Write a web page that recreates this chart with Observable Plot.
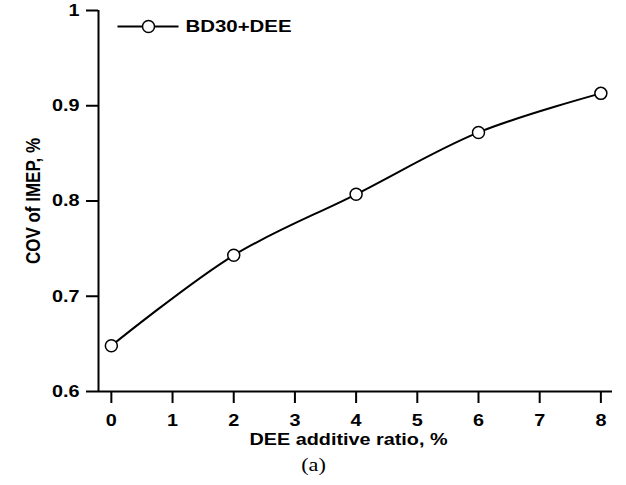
<!DOCTYPE html>
<html>
<head>
<meta charset="utf-8">
<script src="https://cdn.jsdelivr.net/npm/d3@7"></script>
<script src="https://cdn.jsdelivr.net/npm/@observablehq/plot@0.6"></script>
<style>
  html, body { margin: 0; padding: 0; background: #fff; }
  #chart svg { display: block; }
</style>
</head>
<body>
<div id="chart"></div>
<script>
const ratio = [0, 2, 4, 6, 8];
const cov = [0.648, 0.743, 0.807, 0.872, 0.913];
const seriesName = "BD30+DEE";
const xTicks = [0, 1, 2, 3, 4, 5, 6, 7, 8];
const yTicks = [0.6, 0.7, 0.8, 0.9, 1];
const xLabel = "DEE additive ratio, %";
const yLabel = "COV of IMEP, %";
const caption = "(a)";

const data = ratio.map((r, i) => ({ratio: r, cov: cov[i]}));
const xDomain = [-0.21, 8.19];
const yDomain = [0.6, 1];

const lineSymbol = {
  draw(ctx) { ctx.moveTo(-31, 0); ctx.lineTo(30, 0); }
};

const chart = Plot.plot({
  width: 626,
  height: 485,
  marginLeft: 98,
  marginRight: 14,
  marginTop: 10,
  marginBottom: 94,
  style: {background: "#fff", color: "#000", fontFamily: "Liberation Sans, Arial, sans-serif"},
  x: {domain: xDomain},
  y: {domain: yDomain},
  marks: [
    Plot.axisY(yTicks, {tickSize: 12, tickPadding: 7, strokeWidth: 2, tickFormat: d3.format("~g"), label: null}),
    Plot.axisX(xTicks, {anchor: "bottom", tickSize: 12, tickPadding: 11, strokeWidth: 2, tickFormat: d3.format("d"), label: null}),
    Plot.ruleX([xDomain[0]], {stroke: "#000", strokeWidth: 2}),
    Plot.ruleY([yDomain[0]], {stroke: "#000", strokeWidth: 2}),
    Plot.line(data, {x: "ratio", y: "cov", curve: "catmull-rom", stroke: "#000", strokeWidth: 2}),
    Plot.dot(data, {x: "ratio", y: "cov", r: 6, stroke: "#000", fill: "#fff", strokeWidth: 1.5}),
    // legend
    Plot.dot([seriesName], {frameAnchor: "top-left", dx: 50, dy: 16, symbol: lineSymbol, r: 5, stroke: "#000", strokeWidth: 2, fill: "none"}),
    Plot.dot([seriesName], {frameAnchor: "top-left", dx: 50, dy: 16, r: 6, stroke: "#000", fill: "#fff", strokeWidth: 1.5}),
    Plot.text([seriesName], {frameAnchor: "top-left", dx: 87, dy: 16, text: d => d, textAnchor: "start", lineAnchor: "middle"}),
    // axis titles
    Plot.text([xLabel], {frameAnchor: "bottom", dx: -7, dy: 48, text: d => d, textAnchor: "middle", lineAnchor: "middle"}),
    Plot.text([yLabel], {frameAnchor: "left", dx: -65, dy: 0, rotate: -90, text: d => d, textAnchor: "middle", lineAnchor: "middle"}),
    Plot.text([caption], {frameAnchor: "bottom", dx: -42, dy: 74, text: d => d, textAnchor: "middle", lineAnchor: "middle"})
  ]
});
document.getElementById("chart").appendChild(chart);

// Font styling, then the reference's horizontal stretch of the lettering (about 1.2)
const stretch = 1.2;
chart.querySelectorAll("text").forEach(t => {
  const s = t.textContent;
  t.style.fill = "#000";
  if (s === caption) {
    t.style.fontFamily = '"Liberation Serif", "Times New Roman", serif';
    t.style.fontWeight = "normal";
    t.style.fontSize = "18.5px";
  } else {
    t.style.fontFamily = '"Liberation Sans", Arial, sans-serif';
    t.style.fontWeight = "bold";
    t.style.fontSize = (s === seriesName || s === yLabel) ? "17px" : "16.5px";
  }
});
chart.querySelectorAll("text").forEach(t => {
  if (t.textContent === yLabel) {
    const tr = t.getAttribute("transform") || "";
    t.setAttribute("transform", tr + " scale(1," + stretch + ")");
  } else {
    const len = t.getComputedTextLength();
    t.setAttribute("textLength", (len * stretch).toFixed(2));
    t.setAttribute("lengthAdjust", "spacingAndGlyphs");
  }
});
chart.querySelectorAll('g[aria-label$="tick"] path').forEach(p => {
  p.style.strokeWidth = "2px";
  p.style.stroke = "#000";
});
</script>
</body>
</html>
